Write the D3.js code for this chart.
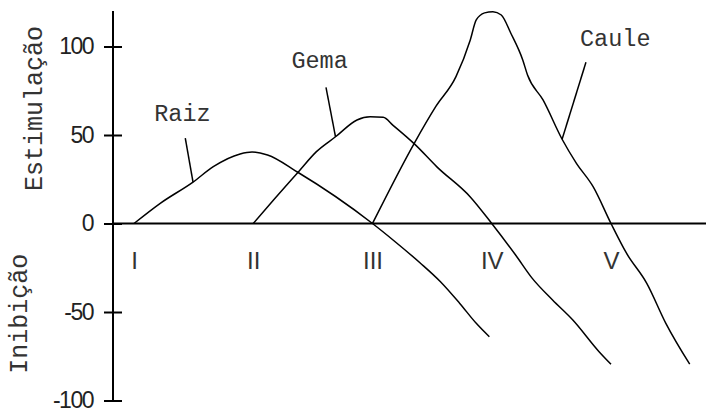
<!DOCTYPE html>
<html lang="pt">
<head>
<meta charset="UTF-8">
<title>Estimulação / Inibição</title>
<script src="https://d3js.org/d3.v7.min.js"></script>
<style>
  body { margin: 0; background: #fff; }
  svg { display: block; }
  .mono { font-family: "Liberation Mono", "Courier New", monospace; fill: #333; }
  .sans { font-family: "Liberation Sans", Arial, sans-serif; fill: #222; }
</style>
</head>
<body>
<div id="chart"></div>
<script>
// stages on the x axis
var stages = ["I", "II", "III", "IV", "V"];
var yTicks = [100, 50, 0, -50, -100];

// curves (x in stage units, 1 = I ... 5 = V)
var raizX = [1, 1.22, 1.495, 1.665, 1.89, 1.99, 2.12, 2.37, 3.0, 3.19, 3.40, 3.57, 3.73, 3.87, 3.98];
var raizY = [0, 11.4, 23.4, 32.1, 39.3, 40.4, 38.7, 29.1, 0, -10.3, -22.3, -32.9, -45, -56.4, -64];

var gemaX = [2.0, 2.17, 2.38, 2.53, 2.69, 2.87, 2.98, 3.09, 3.17, 3.36, 3.54, 3.82, 4.0, 4.20, 4.34, 4.51, 4.68, 4.90, 5.0];
var gemaY = [0, 13.3, 29.3, 40.6, 49, 58.5, 60.3, 60, 55.6, 44.4, 32, 15, 0, -17.8, -31, -43.2, -54.5, -72.4, -79.5];

var cauleX = [3.0, 3.35, 3.53, 3.70, 3.82, 3.87, 3.94, 4.01, 4.08, 4.16, 4.26, 4.30, 4.43, 4.59, 4.71, 4.85, 5.0, 5.13, 5.30, 5.46, 5.66];
var cauleY = [0, 45.3, 66, 83, 103.7, 115, 119, 119.7, 117.8, 107.5, 92.4, 83.9, 69.8, 47.6, 34, 20.8, 0, -16.8, -33.8, -56.4, -79.5];

// curve names, where the pointer touches the curve and where it starts
var names = ["Raiz", "Gema", "Caule"];
var touchX = [1.495, 2.69, 4.59];
var touchY = [23.4, 49, 47.6];
var pointX = [1.43, 2.61, 4.79];
var pointY = [48.3, 76.9, 91.1];
var nameX = [1.17, 2.32, 4.74];
var nameY = [57.9, 87.9, 100.3];

var width = 706, height = 413;

var svg = d3.select("#chart").append("svg")
    .attr("width", width)
    .attr("height", height);

var x = d3.scaleLinear().domain([1, 5]).range([134, 611]);
var y = d3.scaleLinear().domain([-100, 100]).range([400.5, 46.5]);
var x0 = 113; // where the vertical axis sits

// vertical axis, ticks crossing the line
var yAxis = svg.append("g")
    .attr("transform", "translate(" + x0 + ",0)")
    .call(d3.axisLeft(y).tickValues(yTicks).tickFormat(String)
      .tickSize(9).tickSizeOuter(0).tickPadding(11));
yAxis.select(".domain").remove();
yAxis.selectAll(".tick line").attr("x1", 9).attr("stroke", "#000").attr("stroke-width", 2);
yAxis.selectAll(".tick text")
    .attr("class", "sans")
    .style("font-size", "23px")
    .style("letter-spacing", "-1.5px");

svg.append("line")
    .attr("x1", x0).attr("x2", x0)
    .attr("y1", y(120)).attr("y2", y(-100))
    .attr("stroke", "#000").attr("stroke-width", 2);

// horizontal axis at zero, with stage labels under it
svg.append("line")
    .attr("x1", x0).attr("x2", width)
    .attr("y1", y(0)).attr("y2", y(0))
    .attr("stroke", "#000").attr("stroke-width", 2);

var xAxis = svg.append("g")
    .attr("transform", "translate(0," + y(0) + ")")
    .call(d3.axisBottom(x).tickValues([1, 2, 3, 4, 5])
      .tickFormat(function(d){ return stages[d - 1]; })
      .tickSize(0).tickPadding(28));
xAxis.select(".domain").remove();
xAxis.selectAll(".tick text")
    .attr("class", "sans")
    .style("font-size", "24px")
    .style("fill", "#333");

// axis titles
svg.append("text")
    .attr("class", "mono")
    .attr("transform", "translate(42," + y(65) + ") rotate(-90)")
    .attr("text-anchor", "middle")
    .style("font-size", "25px")
    .text("Estimulação");

svg.append("text")
    .attr("class", "mono")
    .attr("transform", "translate(27," + y(-51) + ") rotate(-90)")
    .attr("text-anchor", "middle")
    .style("font-size", "25px")
    .text("Inibição");

// the three curves
var line = d3.line()
    .x(function(d){ return x(d[0]); })
    .y(function(d){ return y(d[1]); })
    .curve(d3.curveMonotoneX);

var series = [d3.zip(raizX, raizY), d3.zip(gemaX, gemaY), d3.zip(cauleX, cauleY)];

svg.append("g").selectAll("path")
    .data(series)
    .enter().append("path")
      .attr("d", line)
      .attr("fill", "none")
      .attr("stroke", "#000")
      .attr("stroke-width", 1.5);

// names and their pointers
names.forEach(function(n, i){
  svg.append("line")
    .attr("x1", x(pointX[i])).attr("y1", y(pointY[i]))
    .attr("x2", x(touchX[i])).attr("y2", y(touchY[i]))
    .attr("stroke", "#000").attr("stroke-width", 1.5);
  svg.append("text")
    .attr("class", "mono")
    .attr("x", x(nameX[i])).attr("y", y(nameY[i]))
    .style("font-size", "23.5px")
    .text(n);
});
</script>
</body>
</html>
